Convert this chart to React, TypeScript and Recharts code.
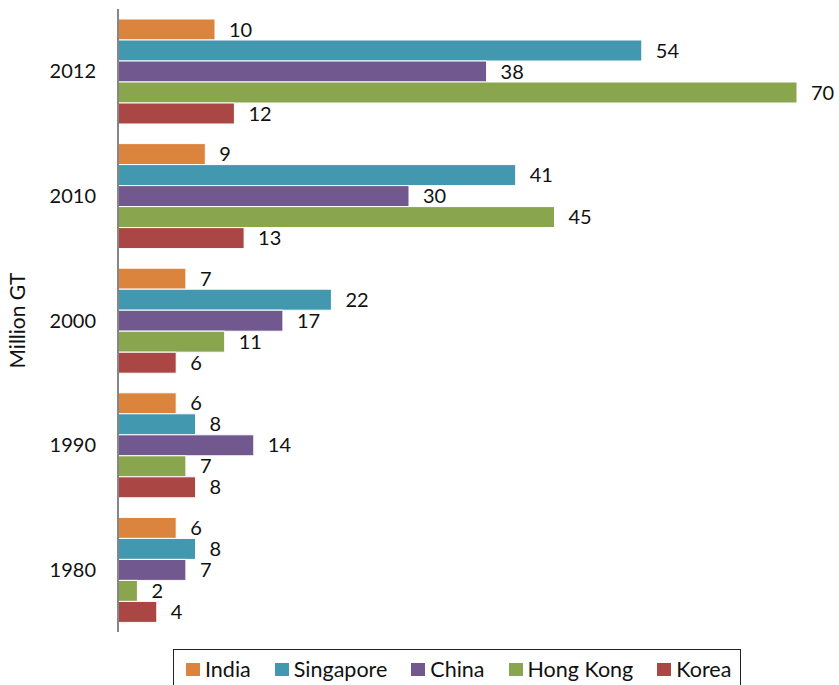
import React from "react";
import { BarChart, Bar, XAxis, YAxis, LabelList } from "recharts";

const years = ["2012", "2010", "2000", "1990", "1980"];
const india = [10, 9, 7, 6, 6];
const singapore = [54, 41, 22, 8, 8];
const china = [38, 30, 17, 14, 7];
const hongKong = [70, 45, 11, 7, 2];
const korea = [12, 13, 6, 8, 4];

const seriesDefs = [
  { key: "India", values: india, color: "#DB843D" },
  { key: "Singapore", values: singapore, color: "#4198AF" },
  { key: "China", values: china, color: "#71588F" },
  { key: "Hong Kong", values: hongKong, color: "#89A54E" },
  { key: "Korea", values: korea, color: "#AA4643" },
];

const data = years.map((y, i) => {
  const row: any = { year: y };
  seriesDefs.forEach((s) => (row[s.key] = s.values[i]));
  return row;
});

const FONT = "Lato, 'Open Sans', sans-serif";

const LegendBox = () => (
  <div
    style={{
      position: "absolute",
      left: 173,
      top: 649,
      border: "1px solid #222",
      height: 44,
      width: 568,
      boxSizing: "border-box",
      display: "flex",
      alignItems: "flex-start",
      paddingLeft: 12,
      paddingTop: 7,
      fontFamily: FONT,
      fontSize: 21.5,
      lineHeight: "24px",
      color: "#111",
      whiteSpace: "nowrap",
      overflow: "hidden",
    }}
  >
    {seriesDefs.map((s) => (
      <div key={s.key} style={{ display: "flex", alignItems: "center", marginRight: 24, flexShrink: 0, whiteSpace: "nowrap" }}>
        <span style={{ display: "inline-block", width: 14, height: 13, background: s.color, marginRight: 5, flexShrink: 0 }} />
        <span style={{ whiteSpace: "nowrap" }}>{s.key}</span>
      </div>
    ))}
  </div>
);

export default function App() {
  return (
    <div style={{ position: "absolute", left: 0, top: 0, width: 839, height: 685, background: "#fff", overflow: "hidden" }}>
      <BarChart
        width={839}
        height={685}
        data={data}
        layout="vertical"
        margin={{ top: 9, right: 42, bottom: 53, left: 0 }}
        barCategoryGap={10}
        barGap={0}
      >
        <XAxis type="number" domain={[0, 70]} hide />
        <YAxis
          type="category"
          dataKey="year"
          width={118}
          axisLine={{ stroke: "#868686", strokeWidth: 2 }}
          tickLine={false}
          tickSize={0}
          tickMargin={22}
          tick={{ fill: "#111", fontSize: 20, fontFamily: FONT }}
          label={{
            content: (props: any) => {
              const vb = props.viewBox || {};
              const cy = (vb.y ?? 9) + (vb.height ?? 623) / 2;
              return (
                <text
                  x={16}
                  y={cy}
                  transform={`rotate(-90 16 ${cy})`}
                  textAnchor="middle"
                  dominantBaseline="central"
                  fontFamily={FONT}
                  fontSize={21}
                  fill="#111"
                >
                  Million GT
                </text>
              );
            },
          }}
        />
        {seriesDefs.map((s) => (
          <Bar key={s.key} dataKey={s.key} fill={s.color} stroke="#ffffff" strokeWidth={1} isAnimationActive={false}>
            <LabelList
              dataKey={s.key}
              position="right"
              offset={14}
              fill="#111"
              fontSize={20}
              fontFamily={FONT}
            />
          </Bar>
        ))}
      </BarChart>
      <LegendBox />
    </div>
  );
}
